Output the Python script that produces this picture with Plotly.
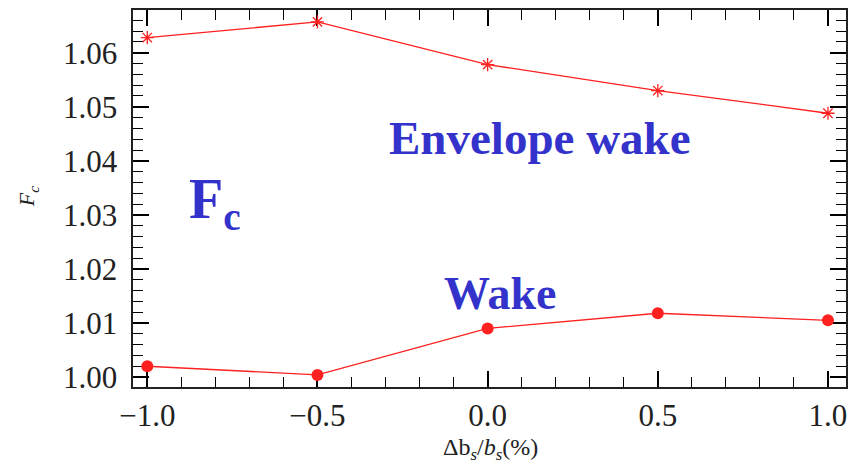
import plotly.graph_objects as go

x_vals = [-1.0, -0.5, 0.0, 0.5, 1.0]
envelope_wake = [1.0628, 1.0657, 1.0578, 1.0530, 1.0488]
wake = [1.0020, 1.0004, 1.0090, 1.0118, 1.0105]
x_ticks = [-1.0, -0.5, 0.0, 0.5, 1.0]
y_ticks = [1.00, 1.01, 1.02, 1.03, 1.04, 1.05, 1.06]

RED = "#ff2020"
BLUE = "#3333cc"
SERIF = "Liberation Serif, Times New Roman, serif"

fig = go.Figure()
fig.add_trace(go.Scatter(
    x=x_vals, y=envelope_wake, mode="lines+markers",
    line=dict(color=RED, width=1.3),
    marker=dict(symbol="asterisk-open", size=11, color=RED, line=dict(color=RED, width=1.3)),
    showlegend=False))
fig.add_trace(go.Scatter(
    x=x_vals, y=wake, mode="lines+markers",
    line=dict(color=RED, width=1.3),
    marker=dict(symbol="circle", size=12, color=RED),
    showlegend=False))

fig.add_annotation(x=0.155, y=1.0442, xref="x", yref="y", text="<b>Envelope wake</b>",
                   showarrow=False, font=dict(family=SERIF, size=47, color=BLUE))
fig.add_annotation(x=0.035, y=1.0155, xref="x", yref="y", text="<b>Wake</b>",
                   showarrow=False, font=dict(family=SERIF, size=46, color=BLUE))
fig.add_annotation(x=-0.80, y=1.0322, xref="x", yref="y", text="<b>F<sub>c</sub></b>",
                   showarrow=False, font=dict(family=SERIF, size=56, color=BLUE))

fig.add_annotation(x=-0.147, y=0.504, xref="paper", yref="paper", text="<i>F<sub>c</sub></i>",
                   xanchor="center", yanchor="middle",
                   textangle=-90, showarrow=False, font=dict(family=SERIF, size=22, color="#222"))
fig.add_annotation(x=0.501, y=-0.165, xref="paper", yref="paper",
                   xanchor="center", yanchor="middle",
                   text="\u0394b<sub><i>s</i></sub>/<i>b<sub>s</sub></i>(%)",
                   showarrow=False, font=dict(family=SERIF, size=24, color="#222"))

axis_common = dict(
    showline=True, linecolor="#222", linewidth=1.6, mirror="allticks",
    ticks="inside", ticklen=16, tickwidth=1.5, tickcolor="black",
    showgrid=False, zeroline=False, layer="below traces",
    tickfont=dict(family=SERIF, size=31, color="#222"),
)

fig.update_xaxes(range=[-1.042, 1.053], tickmode="linear", tick0=x_ticks[0],
                 dtick=x_ticks[1] - x_ticks[0], tickformat=".1f",
                 minor=dict(dtick=0.1, ticks="inside", ticklen=10,
                            tickwidth=1.3, tickcolor="black", showgrid=False),
                 **axis_common)
fig.update_yaxes(range=[0.99816, 1.0679], tickmode="linear", tick0=y_ticks[0],
                 dtick=round(y_ticks[1] - y_ticks[0], 4), tickformat=".2f", ticksuffix=" ",
                 minor=dict(dtick=0.002, ticks="inside", ticklen=10,
                            tickwidth=1.3, tickcolor="black", showgrid=False),
                 **axis_common)

fig.update_layout(width=859, height=470, margin=dict(l=133, r=13, t=8, b=83),
                  plot_bgcolor="white", paper_bgcolor="white")
fig.write_html("out.html", config={"displayModeBar": False},
               post_script="document.body.style.margin='0';document.body.style.overflow='hidden';")
